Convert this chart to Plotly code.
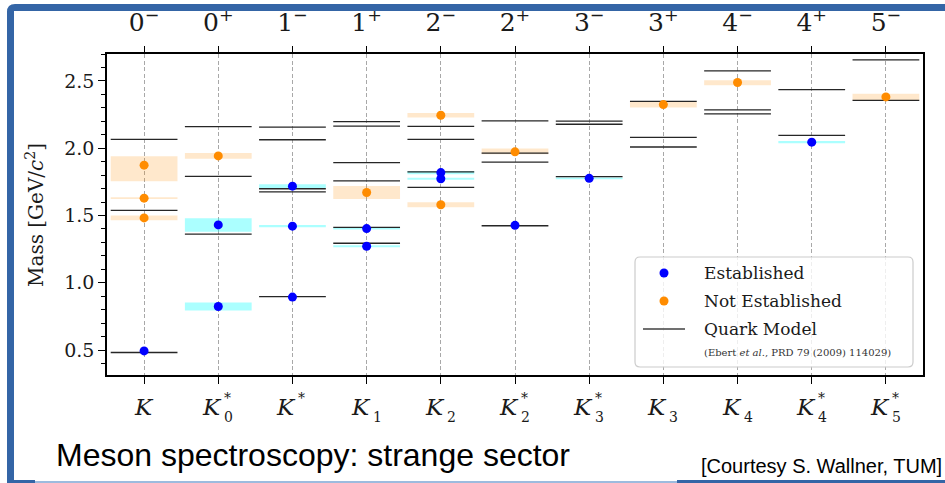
import plotly.graph_objects as go

# ---- data -------------------------------------------------------------
columns = ["K", "K0*", "K*", "K1", "K2", "K2*", "K3*", "K3", "K4", "K4*", "K5*"]
jp_labels = ["0", "0", "1", "1", "2", "2", "3", "3", "4", "4", "5"]
jp_parity = ["−", "+", "−", "+", "−", "+", "−", "+", "−", "+", "−"]
name_sub = ["", "0", "", "1", "2", "2", "3", "3", "4", "4", "5"]
name_sup = ["", "*", "*", "", "", "*", "*", "", "", "*", "*"]

# established states (GeV/c^2)
est_col = [0, 1, 1, 2, 2, 2, 3, 3, 4, 4, 5, 6, 9]
est_mass = [0.494, 0.824, 1.430, 0.894, 1.421, 1.718, 1.272, 1.403, 1.773, 1.819, 1.427, 1.776, 2.045]
est_err = [0.0, 0.030, 0.050, 0.0, 0.008, 0.015, 0.007, 0.007, 0.008, 0.012, 0.002, 0.007, 0.009]

# not established states
ne_col = [0, 0, 0, 1, 3, 4, 4, 5, 7, 8, 10]
ne_mass = [1.482, 1.629, 1.874, 1.943, 1.671, 1.580, 2.245, 1.973, 2.324, 2.488, 2.381]
ne_err_up = [0.018, 0.007, 0.067, 0.022, 0.048, 0.018, 0.016, 0.025, 0.022, 0.017, 0.023]
ne_err_dn = [0.018, 0.007, 0.119, 0.022, 0.048, 0.018, 0.016, 0.017, 0.022, 0.020, 0.026]

# quark model predictions (Ebert et al.)
qm_col = [0, 0, 0,
          1, 1, 1,
          2, 2, 2, 2, 2,
          3, 3, 3, 3, 3, 3,
          4, 4, 4, 4,
          5, 5, 5, 5,
          6, 6, 6,
          7, 7, 7,
          8, 8, 8,
          9, 9,
          10, 10]
qm_mass = [0.482, 1.538, 2.065,
           1.362, 1.791, 2.160,
           0.897, 1.675, 1.699, 2.063, 2.156,
           1.294, 1.412, 1.757, 1.893, 2.164, 2.198,
           1.709, 1.824, 2.066, 2.163,
           1.424, 1.896, 1.964, 2.203,
           1.789, 2.178, 2.202,
           2.009, 2.080, 2.348,
           2.255, 2.285, 2.575,
           2.096, 2.436,
           2.356, 2.656]

HALF = 0.45  # half width of a level bar in category units

# ---- frame geometry (pixels) -----------------------------------------
FW, FH = 945, 483
L, R, T, B = 107, 923, 54, 375
PW, PH = R - L, B - T


def px(x):
    return (x - L) / PW


def py(y):
    return (B - y) / PH


SERIF = "DejaVu Serif"
SANS = "Liberation Sans"
INK = "#1a1a1a"

fig = go.Figure()


def band_trace(cols, lo, hi, color):
    xs, ys = [], []
    for c, a, b in zip(cols, lo, hi):
        xs += [c - HALF, c + HALF, c + HALF, c - HALF, c - HALF, None]
        ys += [a, a, b, b, a, None]
    return go.Scatter(x=xs, y=ys, mode="lines", fill="toself", fillcolor=color,
                      line=dict(width=0), hoverinfo="skip", showlegend=False)


fig.add_trace(band_trace(ne_col,
                         [m - d for m, d in zip(ne_mass, ne_err_dn)],
                         [m + u for m, u in zip(ne_mass, ne_err_up)],
                         "rgba(255,140,0,0.2)"))
fig.add_trace(band_trace(est_col,
                         [m - e for m, e in zip(est_mass, est_err)],
                         [m + e for m, e in zip(est_mass, est_err)],
                         "rgba(0,255,255,0.33)"))

# quark-model levels
qx, qy = [], []
for c, m in zip(qm_col, qm_mass):
    qx += [c - HALF, c + HALF, None]
    qy += [m, m, None]
fig.add_trace(go.Scatter(x=qx, y=qy, mode="lines",
                         line=dict(color="#262626", width=1.3),
                         showlegend=False, name="Quark Model"))

fig.add_trace(go.Scatter(x=est_col, y=est_mass, mode="markers",
                         marker=dict(color="#0000ff", size=9),
                         showlegend=False, name="Established"))
fig.add_trace(go.Scatter(x=ne_col, y=ne_mass, mode="markers",
                         marker=dict(color="#ff8c00", size=9),
                         showlegend=False, name="Not Established"))

# companion trace so the top J^P axis gets drawn
fig.add_trace(go.Scatter(x=[None], y=[None], xaxis="x2", mode="markers",
                         showlegend=False, hoverinfo="skip"))

xr = [-0.5, len(columns) - 0.5]
fig.update_layout(
    width=FW, height=FH,
    margin=dict(l=L, r=FW - R, t=T, b=FH - B, autoexpand=False),
    paper_bgcolor="white", plot_bgcolor="white",
    xaxis=dict(range=xr, tickvals=list(range(len(columns))),
               showticklabels=False,
               ticks="outside", ticklen=7, tickwidth=1.2, tickcolor="black",
               showline=True, linecolor="black", linewidth=1.6, mirror=True,
               showgrid=True, gridcolor="#a8a8a8", gridwidth=1,
               griddash="4px,2.5px", zeroline=False),
    xaxis2=dict(range=xr, overlaying="x", side="top", anchor="y",
                tickvals=list(range(len(columns))),
                ticktext=[f"{j}<sup>{p}</sup>" for j, p in zip(jp_labels, jp_parity)],
                ticks="outside", ticklen=7, tickwidth=1.2, tickcolor="black",
                ticklabelstandoff=5,
                tickfont=dict(family=SERIF, size=25, color=INK),
                showline=False, showgrid=False, zeroline=False),
    yaxis=dict(range=[0.315, 2.70], tick0=0.5, dtick=0.5, tickformat=".1f",
               ticks="outside", ticklen=7, tickwidth=1.2, tickcolor="black",
               tickfont=dict(family=SERIF, size=19, color=INK),
               minor=dict(dtick=0.1, tick0=0, ticks="outside", ticklen=4,
                          tickwidth=1, tickcolor="black", showgrid=False),
               showline=True, linecolor="black", linewidth=1.6, mirror=True,
               showgrid=False, zeroline=False),
)

ann = []
shapes = []

# bottom category labels with stacked sub/superscripts
for i, (sb, sp) in enumerate(zip(name_sub, name_sup)):
    has_script = bool(sb or sp)
    ann.append(dict(x=i, y=py(407), xref="x", yref="paper", text="<i>K</i>",
                    showarrow=False, xanchor="right" if has_script else "center",
                    yanchor="middle", borderpad=0,
                    xshift=5 if has_script else 0,
                    font=dict(family=SERIF, size=23, color=INK)))
    if sp:
        ann.append(dict(x=i, y=py(398), xref="x", yref="paper", text=sp,
                        showarrow=False, xanchor="left", yanchor="middle",
                        borderpad=0, xshift=5,
                        font=dict(family=SERIF, size=14, color=INK)))
    if sb:
        ann.append(dict(x=i, y=py(417), xref="x", yref="paper", text=sb,
                        showarrow=False, xanchor="left", yanchor="middle",
                        borderpad=0, xshift=5,
                        font=dict(family=SERIF, size=14, color=INK)))

# y-axis title
ann.append(dict(x=px(35), y=py(215), xref="paper", yref="paper",
                text="Mass [GeV/<i>c</i><sup>2</sup>]", textangle=-90,
                showarrow=False, xanchor="center", yanchor="middle",
                font=dict(family=SERIF, size=20, color=INK)))

# legend box
lx0, lx1, ly0, ly1, rr = 635, 913, 257, 367, 5
path = (f"M {px(lx0 + rr)},{py(ly0)} L {px(lx1 - rr)},{py(ly0)} "
        f"Q {px(lx1)},{py(ly0)} {px(lx1)},{py(ly0 + rr)} "
        f"L {px(lx1)},{py(ly1 - rr)} Q {px(lx1)},{py(ly1)} {px(lx1 - rr)},{py(ly1)} "
        f"L {px(lx0 + rr)},{py(ly1)} Q {px(lx0)},{py(ly1)} {px(lx0)},{py(ly1 - rr)} "
        f"L {px(lx0)},{py(ly0 + rr)} Q {px(lx0)},{py(ly0)} {px(lx0 + rr)},{py(ly0)} Z")
shapes.append(dict(type="path", path=path, xref="paper", yref="paper",
                   fillcolor="rgba(255,255,255,0.8)",
                   line=dict(color="#cccccc", width=1.2)))
for cy, col in [(273, "#0000ff"), (301, "#ff8c00")]:
    shapes.append(dict(type="circle", xref="paper", yref="paper",
                       x0=px(664 - 4.5), x1=px(664 + 4.5),
                       y0=py(cy + 4.5), y1=py(cy - 4.5),
                       fillcolor=col, line=dict(width=0)))
shapes.append(dict(type="line", xref="paper", yref="paper",
                   x0=px(643), x1=px(685), y0=py(329), y1=py(329),
                   line=dict(color="#404040", width=1.4)))
for cy, txt in [(273, "Established"), (301, "Not Established"), (329, "Quark Model")]:
    ann.append(dict(x=px(702), y=py(cy), xref="paper", yref="paper", text=txt,
                    showarrow=False, xanchor="left", yanchor="middle",
                    font=dict(family=SERIF, size=17, color=INK)))
ann.append(dict(x=px(702), y=py(352), xref="paper", yref="paper",
                text="(Ebert <i>et al.</i>, PRD 79 (2009) 114029)",
                showarrow=False, xanchor="left", yanchor="middle",
                font=dict(family=SERIF, size=10, color="#333333")))

# slide decoration
BLUE = "#3465a6"
fpath = (f"M {px(945)},{py(4)} L {px(15)},{py(4)} Q {px(7)},{py(4)} {px(7)},{py(12)} "
         f"L {px(7)},{py(484)} L {px(14)},{py(484)} L {px(14)},{py(11)} "
         f"L {px(945)},{py(11)} Z")
shapes.append(dict(type="path", path=fpath, xref="paper", yref="paper",
                   fillcolor=BLUE, line=dict(width=0)))
shapes.append(dict(type="rect", xref="paper", yref="paper",
                   x0=px(14), x1=px(35), y0=py(484), y1=py(480),
                   fillcolor=BLUE, line=dict(width=0)))
shapes.append(dict(type="rect", xref="paper", yref="paper",
                   x0=px(35), x1=px(677), y0=py(483), y1=py(481),
                   fillcolor="#9dbbde", line=dict(width=0)))
shapes.append(dict(type="rect", xref="paper", yref="paper",
                   x0=px(677), x1=px(946), y0=py(484), y1=py(480),
                   fillcolor=BLUE, line=dict(width=0)))

ann.append(dict(x=px(54), y=py(455), xref="paper", yref="paper",
                text="Meson spectroscopy: strange sector", showarrow=False,
                xanchor="left", yanchor="middle",
                font=dict(family=SANS, size=32, color="black")))
ann.append(dict(x=px(944), y=py(466), xref="paper", yref="paper",
                text="[Courtesy S. Wallner, TUM]", showarrow=False,
                xanchor="right", yanchor="middle",
                font=dict(family=SANS, size=20, color="black")))

fig.update_layout(annotations=ann, shapes=shapes)
fig.write_html("out.html")
